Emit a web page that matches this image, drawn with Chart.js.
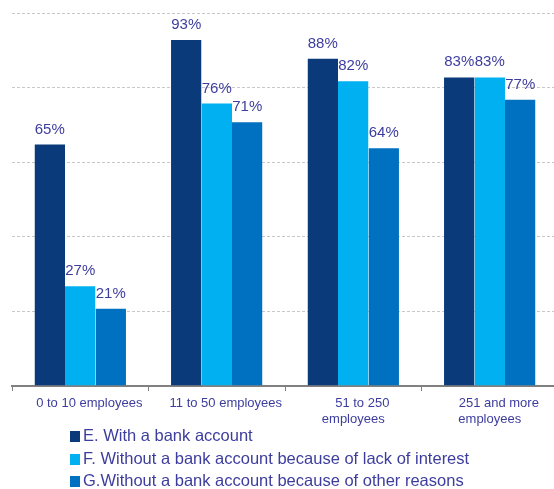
<!DOCTYPE html>
<html>
<head>
<meta charset="utf-8">
<script src="https://cdn.jsdelivr.net/npm/chart.js@4.4.1/dist/chart.umd.min.js"></script>
<style>
  html, body { margin: 0; padding: 0; background: #fff; overflow: hidden; }
  #wrap { position: relative; width: 554px; height: 489px; overflow: hidden; }
  #wrap canvas { position: absolute; left: 0; top: 0; }
  #legenda { position: absolute; left: 70px; top: 424px; font-family: "Liberation Sans", Arial, sans-serif; font-size: 16.5px; color: #3D3D9E; }
  #legenda div { height: 22.5px; line-height: 22.5px; white-space: nowrap; }
  #legenda span { display: inline-block; width: 10px; height: 11px; margin-right: 3px; vertical-align: -1px; }
</style>
</head>
<body>
<div id="wrap">
  <canvas id="grafico"></canvas>
  <div id="legenda"></div>
</div>
<script>
// categorias (tamanho da empresa) - primeira linha vem deslocada à direita
const categorias = [
  "     0 to 10 employees",
  "     11 to 50 employees",
  ["     51 to 250", "employees"],
  ["     251 and more", "employees"]
];

// séries
const nomesSeries = [
  "E. With a bank account",
  "F. Without a bank account because of lack of interest",
  "G.Without a bank account because of other reasons"
];
const comConta = [65, 93, 88, 83];
const semInteresse = [27, 76, 82, 83];
const outrasRazoes = [21, 71, 64, 77];

const cores = ["#0B3A7A", "#00B0F0", "#0070C0"];
const corTexto = "#3D3D9E";

// rótulos de valor em cima das barras
const rotulosValor = {
  id: "rotulosValor",
  afterDatasetsDraw(chart) {
    const ctx = chart.ctx;
    ctx.save();
    ctx.font = '15px "Liberation Sans", Arial, sans-serif';
    ctx.fillStyle = corTexto;
    ctx.textAlign = "center";
    ctx.textBaseline = "alphabetic";
    chart.data.datasets.forEach((ds, i) => {
      chart.getDatasetMeta(i).data.forEach((bar, j) => {
        ctx.fillText(ds.data[j] + "%", bar.x, bar.y - 10);
      });
    });
    ctx.restore();
  }
};

const canvas = document.getElementById("grafico");
canvas.width = 558;
canvas.height = 489;

const chart = new Chart(canvas.getContext("2d"), {
  type: "bar",
  data: {
    labels: categorias,
    datasets: [comConta, semInteresse, outrasRazoes].map((d, i) => ({
      label: nomesSeries[i],
      data: d,
      backgroundColor: cores[i],
      borderColor: "rgba(255,255,255,0.3)",
      borderWidth: { top: 1, left: 0, right: 0, bottom: 0 },
      categoryPercentage: 0.67,
      barPercentage: 1.0
    }))
  },
  options: {
    responsive: false,
    animation: false,
    layout: { padding: { left: 12, top: 13, right: 0, bottom: 0 } },
    plugins: {
      legend: { display: false },
      tooltip: { enabled: false }
    },
    scales: {
      x: {
        grid: {
          offset: true,
          drawOnChartArea: false,
          drawTicks: true,
          tickLength: 5,
          color: "#7F7F7F"
        },
        border: { color: "#808080", width: 2 },
        ticks: {
          color: corTexto,
          font: { family: '"Liberation Sans", Arial, sans-serif', size: 13 },
          padding: 5,
          maxRotation: 0,
          autoSkip: false
        },
        afterFit: s => { s.height = 103; }
      },
      y: {
        min: 0,
        max: 100,
        ticks: { display: false, stepSize: 20 },
        grid: { color: "#C8C8C8", lineWidth: 1, drawTicks: false },
        border: { display: false, dash: [3, 2] },
        afterFit: s => { s.width = 0; }
      }
    }
  },
  plugins: [rotulosValor]
});

// legenda em HTML, alinhada à esquerda
const legenda = document.getElementById("legenda");
nomesSeries.forEach((nome, i) => {
  const linha = document.createElement("div");
  linha.innerHTML = `<span style="background:${cores[i]}"></span>${nome}`;
  legenda.appendChild(linha);
});
</script>
</body>
</html>
